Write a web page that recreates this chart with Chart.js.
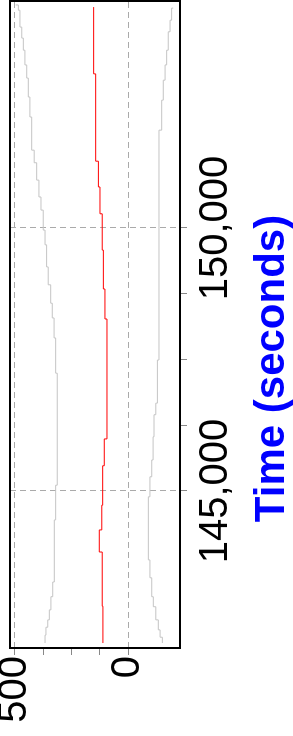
<!DOCTYPE html>
<html>
<head>
<meta charset="utf-8">
<script src="https://cdn.jsdelivr.net/npm/chart.js@4"></script>
<style>
  html, body { margin: 0; padding: 0; background: #fff; overflow: hidden; }
  /* chart is drawn landscape, then turned a quarter to the left */
  #wrap { position: absolute; left: 0; top: 736px; width: 736px; height: 293px;
          transform: rotate(-90deg); transform-origin: 0 0; }
  canvas { display: block; }
</style>
</head>
<body>
<div id="wrap"><canvas id="chart" width="736" height="293"></canvas></div>
<script>
// Values (time in seconds)
const redTime  = [142110, 142810, 143840, 144260, 144730, 145480, 145990, 148270, 148840, 149580, 150270, 150780, 151270, 152930, 154200];
const redValue = [111, 114, 127, 116, 112, 105, 93, 102, 109, 114, 124, 131, 143, 152, 152];

const upperTime  = [142110, 142260, 142410, 142550, 142740, 142990, 143270, 144450, 145110, 147240, 147910, 148290, 148570, 148920, 149260, 149680, 149960, 150340, 150590, 150910, 151240, 151480, 152110, 152490, 152850, 153100, 153380, 153610, 153820, 154140, 154240];
const upperValue = [367, 363, 355, 348, 341, 333, 326, 320, 313, 320, 327, 335, 342, 353, 360, 367, 375, 385, 394, 404, 415, 426, 434, 441, 448, 456, 463, 470, 478, 485, 497];

const lowerTime  = [142110, 142220, 142360, 142550, 142800, 142990, 143350, 143690, 144890, 145270, 145590, 146030, 146450, 146670, 147490, 151860, 152430, 152810, 153100, 153380, 153730, 153950, 154180];
const lowerValue = [-152, -142, -134, -123, -112, -105, -97, -90, -97, -105, -111, -115, -123, -130, -137, -149, -156, -164, -171, -178, -186, -193, -200];

// axis ticks
const xTicks = [145000, 146250, 147500, 148750, 150000];
const xLabelTicks = [145000, 150000];
const yTicks = [0, 125, 250, 375, 500];
const yLabelTicks = [0, 500];

const FONT = '"Liberation Sans", Arial, sans-serif';
const GRID = '#aaaaaa';

const pts = (xs, ys) => xs.map((x, i) => ({ x, y: ys[i] }));

const frame = {
  id: 'frame',
  afterDatasetsDraw(chart) {
    const { ctx, chartArea: a } = chart;
    ctx.save();
    ctx.strokeStyle = '#000';
    ctx.lineWidth = 2;
    ctx.strokeRect(a.left, a.top, a.right - a.left, a.bottom - a.top);
    ctx.restore();
  }
};

new Chart(document.getElementById('chart'), {
  type: 'line',
  data: {
    datasets: [
      { data: pts(upperTime, upperValue), borderColor: '#c4c4c4', borderWidth: 1, pointRadius: 0, stepped: true },
      { data: pts(lowerTime, lowerValue), borderColor: '#c4c4c4', borderWidth: 1, pointRadius: 0, stepped: true },
      { data: pts(redTime, redValue), borderColor: '#ff0000', borderWidth: 1, pointRadius: 0, stepped: true }
    ]
  },
  options: {
    responsive: false,
    animation: false,
    devicePixelRatio: 1,
    events: [],
    layout: { padding: { top: 10, right: 1, left: 0, bottom: 0 } },
    plugins: {
      legend: { display: false },
      tooltip: { enabled: false },
      title: {
        display: true, position: 'bottom', text: 'Time (seconds)', color: '#0000ff',
        font: { family: FONT, size: 42, weight: 'bold', lineHeight: 1 },
        padding: { top: 0, bottom: 0 }
      }
    },
    scales: {
      x: {
        type: 'linear', min: 142015, max: 154315,
        afterBuildTicks: s => { s.ticks = xTicks.map(v => ({ value: v })); },
        afterFit: s => { s.height = 71; s.paddingLeft = 0; s.paddingRight = 0; },
        ticks: {
          autoSkip: false, maxRotation: 0, minRotation: 0, padding: 5,
          color: '#000', font: { family: FONT, size: 40 },
          callback: v => xLabelTicks.includes(v) ? v.toLocaleString('en-US') : ''
        },
        grid: {
          color: c => (c.tick && xLabelTicks.includes(c.tick.value)) ? GRID : 'rgba(0,0,0,0)',
          tickColor: '#888', tickLength: 7, lineWidth: 1
        },
        border: { display: false, dash: [6, 4] }
      },
      y: {
        min: -230, max: 522,
        afterBuildTicks: s => { s.ticks = yTicks.map(v => ({ value: v })); },
        afterFit: s => { s.width = 88; s.paddingTop = 0; s.paddingBottom = 0; },
        ticks: {
          autoSkip: false, padding: 1,
          color: '#000', font: { family: FONT, size: 40 },
          callback: v => yLabelTicks.includes(v) ? String(v) : ''
        },
        grid: {
          color: c => (c.tick && yLabelTicks.includes(c.tick.value)) ? GRID : 'rgba(0,0,0,0)',
          tickColor: '#888', tickLength: 7, lineWidth: 1
        },
        border: { display: false, dash: [6, 4] }
      }
    }
  },
  plugins: [frame]
});
</script>
</body>
</html>
